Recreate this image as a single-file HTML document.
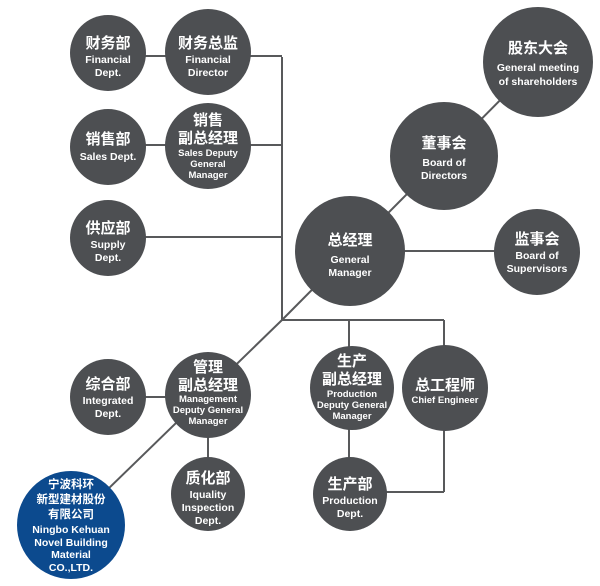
<!DOCTYPE html>
<html><head><meta charset="utf-8"><style>
html,body{margin:0;padding:0;background:#fff;}
svg{display:block;}
text{fill:#fff;text-anchor:middle;font-family:"Liberation Sans","Noto Sans CJK SC",sans-serif;font-weight:bold;}
.c{font-size:15px;}
.e{font-size:10.5px;}
.s{font-size:9.5px;}
</style></head><body>
<svg width="600" height="586" viewBox="0 0 600 586" xmlns="http://www.w3.org/2000/svg">
<g stroke="#58595b" stroke-width="2" fill="none">
<line x1="282" y1="57" x2="282" y2="320"/>
<line x1="108" y1="56" x2="282" y2="56"/>
<line x1="108" y1="145" x2="282" y2="145"/>
<line x1="108" y1="237" x2="282" y2="237"/>
<line x1="282" y1="320" x2="444" y2="320"/>
<line x1="349" y1="320" x2="349" y2="494"/>
<line x1="444" y1="320" x2="444" y2="492"/>
<line x1="350" y1="492" x2="444" y2="492"/>
<line x1="282" y1="320" x2="71" y2="525"/>
<line x1="282" y1="320" x2="538" y2="62"/>
<line x1="350" y1="251" x2="537" y2="251"/>
<line x1="108" y1="397" x2="208" y2="397"/>
<line x1="208" y1="395" x2="208" y2="494"/>
</g>
<g fill="#4d4f52">
<circle cx="108" cy="53" r="38"/>
<circle cx="208" cy="52" r="43"/>
<circle cx="108" cy="147" r="38"/>
<circle cx="208" cy="146" r="43"/>
<circle cx="108" cy="238" r="38"/>
<circle cx="538" cy="62" r="55"/>
<circle cx="444" cy="156" r="54"/>
<circle cx="350" cy="251" r="55"/>
<circle cx="537" cy="252" r="43"/>
<circle cx="108" cy="397" r="38"/>
<circle cx="208" cy="395" r="43"/>
<circle cx="352" cy="388" r="42"/>
<circle cx="445" cy="388" r="43"/>
<circle cx="208" cy="494" r="37"/>
<circle cx="350" cy="494" r="37"/>
</g>
<circle cx="71" cy="525" r="54" fill="#0c4a8e"/>

<text class="c" x="108" y="48">财务部</text>
<text class="e" x="108" y="63">Financial</text>
<text class="e" x="108" y="76">Dept.</text>

<text class="c" x="208" y="48">财务总监</text>
<text class="e" x="208" y="63">Financial</text>
<text class="e" x="208" y="76">Director</text>

<text class="c" x="108" y="144">销售部</text>
<text class="e" x="108" y="160">Sales Dept.</text>

<text class="c" x="208" y="125">销售</text>
<text class="c" x="208" y="143">副总经理</text>
<text class="s" x="208" y="156">Sales Deputy</text>
<text class="s" x="208" y="167">General</text>
<text class="s" x="208" y="178">Manager</text>

<text class="c" x="108" y="233">供应部</text>
<text class="e" x="108" y="248">Supply</text>
<text class="e" x="108" y="261">Dept.</text>

<text class="c" x="538" y="53">股东大会</text>
<text class="e" x="538" y="71">General meeting</text>
<text class="e" x="538" y="85">of shareholders</text>

<text class="c" x="444" y="148">董事会</text>
<text class="e" x="444" y="166">Board of</text>
<text class="e" x="444" y="179">Directors</text>

<text class="c" x="350" y="245">总经理</text>
<text class="e" x="350" y="263">General</text>
<text class="e" x="350" y="276">Manager</text>

<text class="c" x="537" y="244">监事会</text>
<text class="e" x="537" y="259">Board of</text>
<text class="e" x="537" y="272">Supervisors</text>

<text class="c" x="108" y="389">综合部</text>
<text class="e" x="108" y="404">Integrated</text>
<text class="e" x="108" y="417">Dept.</text>

<text class="c" x="208" y="372">管理</text>
<text class="c" x="208" y="390">副总经理</text>
<text class="s" x="208" y="402">Management</text>
<text class="s" x="208" y="413">Deputy General</text>
<text class="s" x="208" y="424">Manager</text>

<text class="c" x="352" y="366">生产</text>
<text class="c" x="352" y="384">副总经理</text>
<text class="s" x="352" y="397">Production</text>
<text class="s" x="352" y="408">Deputy General</text>
<text class="s" x="352" y="419">Manager</text>

<text class="c" x="445" y="390">总工程师</text>
<text class="s" x="445" y="403">Chief Engineer</text>

<text class="c" x="208" y="483">质化部</text>
<text class="e" x="208" y="498">Iquality</text>
<text class="e" x="208" y="511">Inspection</text>
<text class="e" x="208" y="524">Dept.</text>

<text class="c" x="350" y="489">生产部</text>
<text class="e" x="350" y="504">Production</text>
<text class="e" x="350" y="517">Dept.</text>

<text x="71" y="488" style="font-size:11.5px">宁波科环</text>
<text x="71" y="503" style="font-size:11.5px">新型建材股份</text>
<text x="71" y="518" style="font-size:11.5px">有限公司</text>
<text class="e" x="71" y="533">Ningbo Kehuan</text>
<text class="e" x="71" y="546">Novel Building</text>
<text class="e" x="71" y="558">Material</text>
<text class="e" x="71" y="571">CO.,LTD.</text>
</svg>
</body></html>
